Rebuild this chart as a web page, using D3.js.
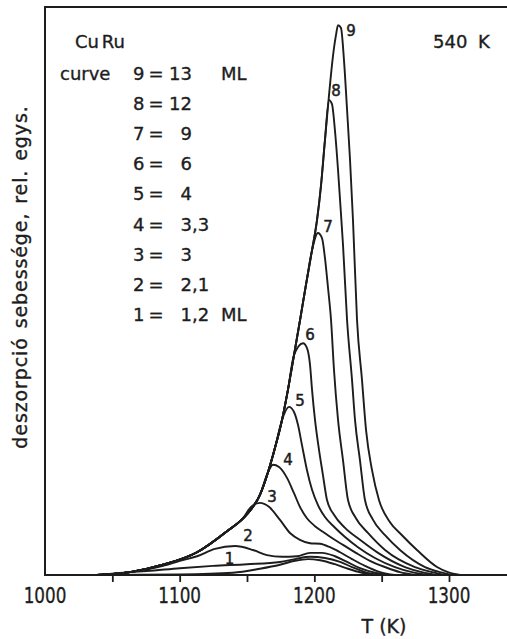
<!DOCTYPE html>
<html>
<head>
<meta charset="utf-8">
<script src="https://cdn.jsdelivr.net/npm/d3@7"></script>
<style>
  html, body { margin: 0; padding: 0; background: #ffffff; }
  svg { display: block; }
  text { font-family: "DejaVu Sans", "Noto Sans", sans-serif; fill: #1d1d1d;
         stroke: #1d1d1d; stroke-width: 0.35px; }
</style>
</head>
<body>
<svg id="chart" width="507" height="639"></svg>
<script>
// ---- data -------------------------------------------------------------
// temperature ticks (K)
const tickTemps  = [1050, 1100, 1150, 1200, 1250, 1300];
const labelTemps = [1000, 1100, 1200, 1300];

// shared low-temperature leading edge [T (K), rate (rel. units)]
const leadingEdge = [
  [1038.6, 0.0], [1063.1, 0.5], [1087.6, 1.8], [1112.9, 4.0], [1135.1, 7.7],
  [1150.0, 10.7], [1159.6, 14.1], [1165.6, 18.1], [1170.8, 22.4], [1176.0, 27.3],
  [1180.4, 32.6], [1184.9, 38.7], [1189.4, 44.9], [1193.8, 51.1], [1198.3, 57.2],
  [1202.0, 62.5], [1205.0, 68.7], [1207.9, 76.6], [1210.9, 84.5], [1213.9, 91.5],
  [1216.1, 95.1]
];

// curve numbers (0 = the lowest, unnumbered trace)
const curveIds = [0, 1, 2, 3, 4, 5, 6, 7, 8, 9];

// temperature at which each curve leaves the shared leading edge
const departTemps = [1040, 1070, 1080, 1140, 1167, 1177, 1186, 1199, 1209, 1217];

// each curve's own part: peak, high-temperature shoulder and trailing edge
const tail0 = [[1100.0, 0.1], [1139.6, 0.4], [1159.6, 1.1], [1174.5, 1.8], [1185.6, 2.5],
  [1195.3, 2.8], [1204.2, 2.6], [1215.3, 1.9], [1225.0, 1.1], [1235.4, 0.4], [1245.0, 0.0]];
const tail1 = [[1075.7, 0.7], [1100.2, 1.2], [1124.7, 1.6], [1150.0, 1.9], [1174.5, 2.3],
  [1185.6, 2.8], [1196.8, 3.2], [1207.9, 3.0], [1219.1, 2.3], [1228.0, 1.4], [1237.6, 0.5],
  [1248.8, 0.0]];
const tail2 = [[1087.6, 1.6], [1100.2, 2.5], [1112.9, 3.3], [1126.2, 4.6], [1141.1, 5.1],
  [1154.5, 4.4], [1164.8, 3.5], [1176.0, 3.2], [1187.1, 3.3], [1196.8, 3.9], [1205.7, 3.9],
  [1215.3, 3.3], [1224.3, 2.3], [1233.9, 1.2], [1245.0, 0.4], [1254.7, 0.0]];
const tail3 = [[1147.0, 10.0], [1153.0, 12.0], [1159.6, 12.7], [1166.3, 12.0], [1174.5, 9.7],
  [1181.9, 7.4], [1189.3, 6.2], [1196.8, 5.6], [1204.2, 5.5], [1211.6, 4.9], [1219.1, 4.0],
  [1228.0, 2.8], [1237.6, 1.6], [1248.8, 0.5], [1259.9, 0.0]];
const tail4 = [[1169.3, 19.4], [1173.8, 19.0], [1179.7, 17.1], [1184.9, 14.4], [1189.3, 12.0],
  [1194.5, 10.0], [1200.5, 8.6], [1206.4, 7.6], [1213.1, 6.5], [1221.3, 5.3], [1230.9, 3.9],
  [1241.3, 2.5], [1252.5, 1.4], [1263.6, 0.5], [1274.7, 0.0]];
const tail5 = [[1181.2, 29.6], [1184.9, 28.7], [1187.9, 26.4], [1190.8, 22.9], [1194.5, 18.5],
  [1198.3, 15.0], [1202.7, 12.3], [1207.9, 10.2], [1214.6, 8.5], [1222.8, 6.7], [1232.4, 4.9],
  [1245.0, 3.0], [1259.9, 1.4], [1272.5, 0.5], [1284.4, 0.0]];
const tail6 = [[1191.6, 40.8], [1194.5, 40.0], [1196.8, 37.0], [1198.3, 32.6], [1200.5, 27.3],
  [1203.5, 22.0], [1206.4, 17.6], [1209.4, 13.2], [1214.6, 10.6], [1222.8, 8.3], [1233.9, 6.2],
  [1247.3, 3.9], [1267.3, 1.4], [1279.9, 0.5], [1291.1, 0.0]];
const tail7 = [[1202.7, 60.2], [1205.7, 59.3], [1207.9, 55.8], [1210.1, 50.7], [1212.4, 44.9],
  [1214.6, 36.1], [1217.6, 27.3], [1221.3, 20.2], [1225.0, 13.2], [1230.9, 10.0], [1239.8, 7.4],
  [1252.5, 4.4], [1274.7, 1.4], [1287.4, 0.5], [1297.0, 0.0]];
const tail8 = [[1210.9, 83.6], [1213.1, 82.9], [1215.3, 78.3], [1217.6, 71.3], [1219.1, 66.0],
  [1221.3, 58.1], [1224.3, 44.9], [1228.0, 34.3], [1230.2, 27.3], [1233.9, 20.2], [1237.6, 13.2],
  [1243.6, 9.7], [1252.5, 7.0], [1263.6, 4.4], [1282.2, 1.4], [1293.3, 0.5], [1302.2, 0.0]];
const tail9 = [[1217.6, 96.8], [1219.8, 96.3], [1222.0, 90.7], [1224.3, 81.9], [1226.5, 73.1],
  [1228.7, 62.5], [1231.7, 44.9], [1235.4, 34.3], [1238.4, 25.5], [1242.8, 18.5], [1248.0, 13.2],
  [1256.2, 9.3], [1265.1, 7.0], [1276.2, 4.4], [1291.1, 1.4], [1299.2, 0.5], [1308.2, 0.0]];
const tails = [tail0, tail1, tail2, tail3, tail4, tail5, tail6, tail7, tail8, tail9];

// where each number sits along its curve (T, K); null = not numbered
const numberTemps = [null, 1137, 1141.1, 1159.6, 1169.3, 1181.2, 1191.6, 1202.7, 1210.9, 1217.6];

// legend: curve number = coverage (ML)
const legendIds    = [9, 8, 7, 6, 5, 4, 3, 2, 1];
const legendValues = ["13", "12", "9", "6", "4", "3,3", "3", "2,1", "1,2"];

// ---- layout -----------------------------------------------------------
const W = 507, H = 639;
const plot = { left: 45, right: 449, top: 7, bottom: 575 };

const x = d3.scaleLinear().domain([1000, 1300]).range([plot.left, plot.right]);
const y = d3.scaleLinear().domain([0, 100]).range([plot.bottom, plot.top]);

const svg = d3.select("#chart");
const ink = "#1d1d1d";

// frame: left, top and bottom lines
svg.append("path")
  .attr("d", `M${W + 2},${plot.top}H${plot.left}V${plot.bottom}H${W + 2}`)
  .attr("fill", "none").attr("stroke", ink).attr("stroke-width", 2);

// ticks below the temperature axis
const axis = d3.axisBottom(x).tickValues(tickTemps).tickSize(7).tickFormat("");
const gAxis = svg.append("g").attr("transform", `translate(0,${plot.bottom})`).call(axis);
gAxis.select(".domain").remove();
gAxis.selectAll(".tick line").attr("stroke", ink).attr("stroke-width", 1.8);

// tick labels (narrow digits)
svg.append("g").selectAll("g").data(labelTemps).join("g")
  .attr("transform", d => `translate(${x(d)},603)`)
  .append("text")
  .attr("transform", "scale(0.8,1)")
  .attr("text-anchor", "middle")
  .attr("font-size", 21)
  .text(d => d);

svg.append("text")
  .attr("x", 384).attr("y", 633)
  .attr("text-anchor", "middle")
  .attr("font-size", 19)
  .text("T (K)");

svg.append("text")
  .attr("transform", "translate(27,277) rotate(-90)")
  .attr("text-anchor", "middle")
  .attr("font-size", 19)
  .attr("letter-spacing", 0.9)
  .attr("word-spacing", 2)
  .text("deszorpció sebessége, rel. egys.");

// ---- curves -----------------------------------------------------------
const line = d3.line()
  .x(d => x(d[0]))
  .y(d => y(d[1]))
  .curve(d3.curveMonotoneX);

const curvePoints = curveIds.map((id, i) =>
  leadingEdge.filter(p => p[0] < departTemps[i]).concat(tails[i]));

svg.append("g").selectAll("path").data(curvePoints).join("path")
  .attr("d", line)
  .attr("fill", "none")
  .attr("stroke", ink)
  .attr("stroke-width", 1.9)
  .attr("stroke-linejoin", "round");

// rate on a curve at temperature T (linear between points)
function rateAt(points, T) {
  for (let k = 1; k < points.length; k++) {
    const a = points[k - 1], b = points[k];
    if (T >= a[0] && T <= b[0]) return a[1] + (b[1] - a[1]) * (T - a[0]) / (b[0] - a[0]);
  }
  return 0;
}

// curve numbers, offset from their anchor point
const numberOffsets = [null, [0, -6.5], [13, -10], [12, -6], [15, -5], [11, -6], [7, -9], [10, -6], [7, -10], [13, 5]];
curveIds.forEach((id, i) => {
  if (numberTemps[i] == null) return;
  const T = numberTemps[i];
  svg.append("text")
    .attr("x", x(T) + numberOffsets[i][0])
    .attr("y", y(rateAt(curvePoints[i], T)) + numberOffsets[i][1])
    .attr("dy", "0.36em")
    .attr("text-anchor", "middle")
    .attr("font-size", 15)
    .style("stroke-width", "0.5px")
    .text(id);
});

// ---- legend -----------------------------------------------------------
const fs = 18;
svg.append("text").attr("x", 75).attr("y", 48).attr("font-size", fs)
  .attr("word-spacing", -3).text("Cu Ru");
svg.append("text").attr("x", 433).attr("y", 48).attr("font-size", fs)
  .attr("word-spacing", 5).text("540 K");
svg.append("text").attr("x", 60).attr("y", 80).attr("font-size", fs).text("curve");

const rows = svg.append("g").selectAll("g").data(legendIds).join("g")
  .attr("transform", (d, i) => `translate(0,${80 + i * 30.1})`)
  .attr("font-size", fs);
rows.append("text").attr("x", 133).text(d => d);
rows.append("text").attr("x", 156).attr("text-anchor", "middle").text("=");
rows.append("text").attr("x", 192).attr("text-anchor", "end")
  .text((d, i) => legendValues[i].split(",")[0]);
rows.append("text").attr("x", 192)
  .text((d, i) => legendValues[i].includes(",") ? "," + legendValues[i].split(",")[1] : "");
rows.filter((d, i) => i === 0 || i === legendIds.length - 1)
  .append("text").attr("x", 221).text("ML");
</script>
</body>
</html>
